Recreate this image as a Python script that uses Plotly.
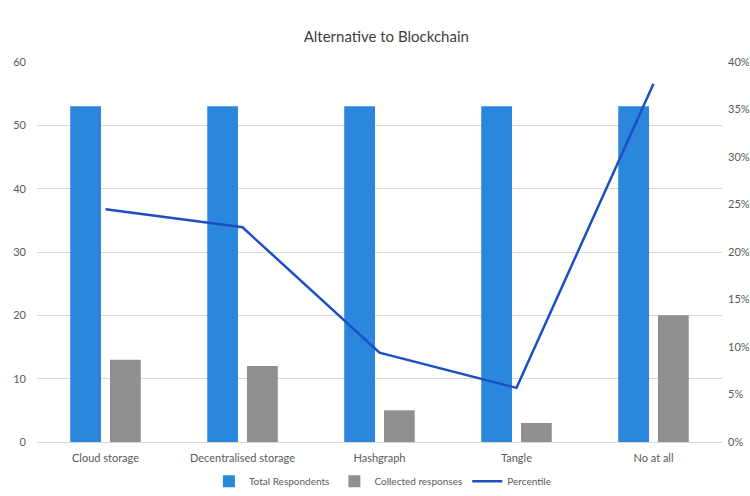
import plotly.graph_objects as go

categories = ["Cloud storage", "Decentralised storage", "Hashgraph", "Tangle", "No at all"]
total_respondents = [53, 53, 53, 53, 53]
collected_responses = [13, 12, 5, 3, 20]
percentile = [0.245, 0.226, 0.094, 0.057, 0.377]

left_ticks = [0, 10, 20, 30, 40, 50, 60]
right_ticks = [0, 0.05, 0.10, 0.15, 0.20, 0.25, 0.30, 0.35, 0.40]

font_family = "Lato, 'Open Sans', sans-serif"

fig = go.Figure()
fig.add_trace(go.Bar(x=categories, y=total_respondents, name="Total Respondents",
                     marker=dict(color="#2B87DC", line=dict(width=0))))
fig.add_trace(go.Bar(x=categories, y=collected_responses, name="Collected responses",
                     marker=dict(color="#8F8F8F", line=dict(width=0))))
fig.add_trace(go.Scatter(x=categories, y=percentile, name="Percentile", yaxis="y2",
                         mode="lines", line=dict(color="#1D4FC4", width=2.5)))

fig.update_layout(
    width=750, height=496,
    margin=dict(l=37, r=28, t=62, b=54, autoexpand=False),
    paper_bgcolor="white", plot_bgcolor="white",
    font=dict(family=font_family, size=11, color="#595959"),
    title=dict(text="Alternative to Blockchain", x=0.515, xanchor="center", y=0.925, yanchor="middle",
               font=dict(family=font_family, size=15, color="#404040")),
    barmode="group", bargap=0.42, bargroupgap=0.225,
    showlegend=True,
    legend=dict(orientation="h", x=0.505, xanchor="center", y=-0.103, yanchor="middle",
                bgcolor="rgba(0,0,0,0)",
                font=dict(size=10, color="#595959"), itemwidth=30, traceorder="normal"),
    xaxis=dict(showgrid=False, showline=True, linecolor="#D9D9D9", linewidth=1, ticks="",
               tickfont=dict(size=11, color="#595959"), ticklabelstandoff=6, automargin=False),
    yaxis=dict(range=[0, 60], tickvals=left_ticks, showgrid=True, gridcolor="#D9D9D9", gridwidth=1,
               zeroline=False, showline=False, ticks="", ticklabelstandoff=10, automargin=False,
               tickfont=dict(size=11, color="#595959")),
    yaxis2=dict(range=[0, 0.4], tickvals=right_ticks, tickformat=".0%", overlaying="y", side="right",
                showgrid=False, zeroline=False, showline=False, ticks="", ticklabelstandoff=5,
                automargin=False, tickfont=dict(size=11, color="#595959")),
)

fig.write_html("out.html")
